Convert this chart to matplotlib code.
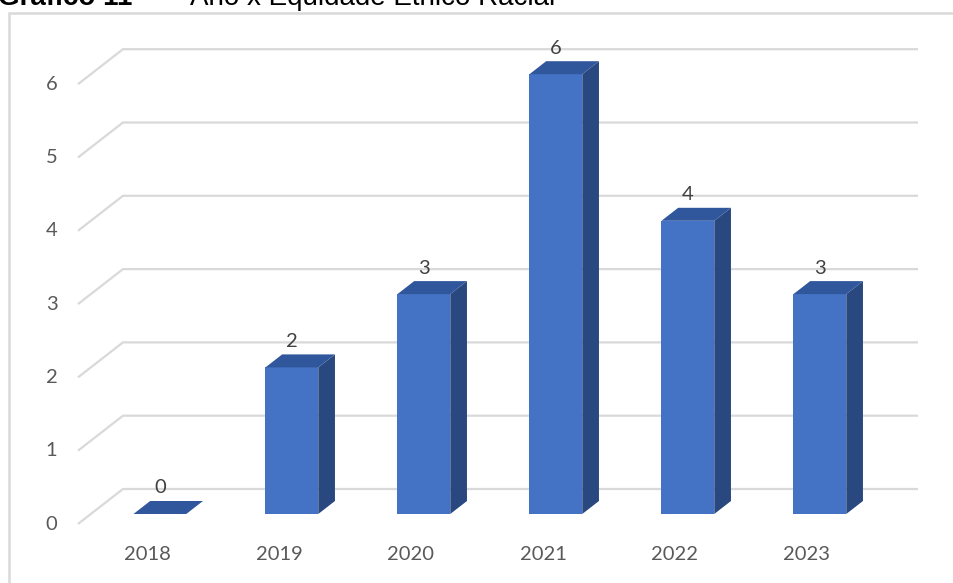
import matplotlib
matplotlib.use("Agg")
import matplotlib.pyplot as plt
from matplotlib.patches import Polygon, Rectangle

# data
anos = ["2018", "2019", "2020", "2021", "2022", "2023"]
valores = [0, 2, 3, 6, 4, 3]
yticks = [0, 1, 2, 3, 4, 5, 6]

# figure in pixels
W, H = 954, 583
fig = plt.figure(figsize=(W / 100, H / 100), dpi=100)
ax = fig.add_axes([0, 0, 1, 1])

# pixel scale of the data axes (front plane)
px_cat = 132.0     # px per category
px_val = 73.3      # px per value unit
x0_px, y0_px = 147.0, 524.0   # front plane origin (category 0, value 0)
ax.set_xlim(-x0_px / px_cat, (W - x0_px) / px_cat)
ax.set_ylim((y0_px - H) / px_val, y0_px / px_val)
ax.axis("off")

# oblique depth projection (full floor depth), in data units
dep_x = 45 / px_cat
dep_y = 35 / px_val
z_front, z_back = 0.286, 0.657   # bar depth range
half_w = 0.2                     # half bar width in categories
x_left = -0.523                  # left wall front edge
x_right = 5.5                    # right end of back wall (front-plane coords)

grid_col = "#D9D9D9"
for v in yticks:
    ax.plot([x_left, x_left + dep_x, x_right + dep_x], [v, v + dep_y, v + dep_y],
            color=grid_col, lw=1.6, solid_capstyle="butt", zorder=1)
    ax.text(x_left - 0.2, v, str(v), ha="center", va="center",
            fontsize=14.5, color="#595959", family="Lato")

front_c = "#4472C4"
top_c = "#30569B"
side_c = "#2A4880"
for i, (ano, v) in enumerate(zip(anos, valores)):
    xc = i + dep_x * z_front
    yb = dep_y * z_front
    l, r = xc - half_w, xc + half_w
    dx = dep_x * (z_back - z_front)
    dy = dep_y * (z_back - z_front)
    top = yb + v
    # side face
    ax.add_patch(Polygon([(r, yb), (r + dx, yb + dy), (r + dx, top + dy), (r, top)],
                         closed=True, fc=side_c, ec="none", zorder=3))
    # front face
    ax.add_patch(Rectangle((l, yb), 2 * half_w, v, fc=front_c, ec="none", zorder=4))
    # top face
    ax.add_patch(Polygon([(l, top), (r, top), (r + dx, top + dy), (l + dx, top + dy)],
                         closed=True, fc=top_c, ec="none", zorder=5))
    # data label
    ax.text(xc, top + 26 / px_val, str(v), ha="center", va="center",
            fontsize=14.5, color="#404040", family="Lato", zorder=6)
    # category label
    ax.text(i, -31 / px_val, ano, ha="center", va="center",
            fontsize=14.5, color="#595959", family="Lato")

# chart frame
fig.patches.append(Rectangle((9 / W, -0.1), 1.1, 1 - 13 / H + 0.1, transform=fig.transFigure,
                             fill=False, ec="#D9D9D9", lw=1.8))

# title (cut at the top of the image)
fig.text(-2 / W, 1 - 5 / H, "Gráfico 11", ha="left", va="baseline",
         fontsize=20, fontweight="bold", family="Liberation Sans", color="black")
fig.text(137 / W, 1 - 5 / H, "–", ha="left", va="baseline",
         fontsize=20, family="Liberation Sans", color="black")
fig.text(190 / W, 1 - 5 / H, "Ano x Equidade Étnico Racial", ha="left", va="baseline",
         fontsize=20, family="Liberation Sans", color="black")

fig.savefig("out.png", dpi=100)
